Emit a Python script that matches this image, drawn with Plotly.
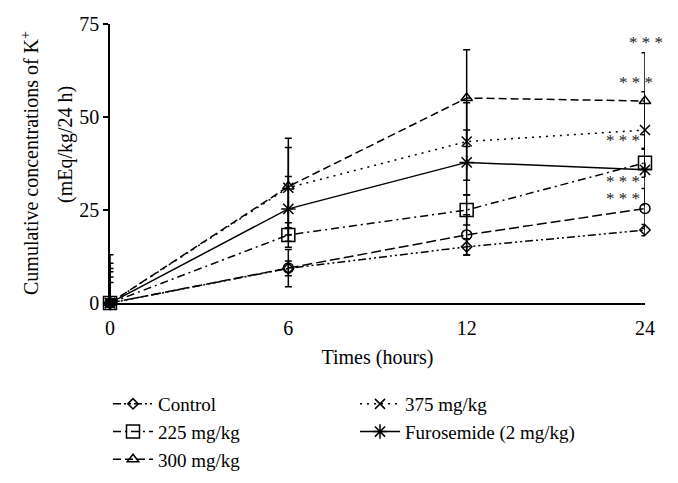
import plotly.graph_objects as go

times = ["0", "6", "12", "24"]
xpos = [0, 1, 2, 3]

control = [0, 9.3, 15.1, 19.6]
control_err = [7.0, 2.0, 2.2, 1.5]
dose150 = [0, 9.4, 18.3, 25.4]
dose150_err = [5.5, 5.0, 5.4, 5.4]
dose225 = [0, 18.3, 25.0, 37.7]
dose225_err = [8.4, 3.3, 4.0, 3.9]
dose300 = [0, 31.3, 55.1, 54.3]
dose300_err = [13.0, 13.0, 13.0, 13.0]
dose375 = [0, 31.0, 43.4, 46.5]
dose375_err = [10.7, 10.8, 10.4, 10.3]
furo = [0, 25.3, 37.8, 35.8]
furo_err = [9.3, 8.7, 8.7, 9.4]

sig_y = [69.9, 59.2, 43.8, 32.6, 28.0]
sig_shift = [20, 10, -3, -3, -3]

font = "Liberation Serif, Times New Roman, serif"

series = [
    ("Control", control, control_err, "diamond-open", 8, "8px,3px,2px,3px,2px,3px", 1, True),
    ("150", dose150, dose150_err, "circle-open", 10, "10px,4px", 6, False),
    ("225 mg/kg", dose225, dose225_err, "square-open", 13, "8px,4px,2px,4px", 3, True),
    ("300 mg/kg", dose300, dose300_err, "triangle-up-open", 10, "8px,4px", 5, True),
    ("375 mg/kg", dose375, dose375_err, "x-thin-open", 10, "2px,5px", 2, True),
    ("Furosemide (2 mg/kg)", furo, furo_err, "asterisk-open", 12, "solid", 4, True),
]

L, R, T, B = 110, 33, 24, 180
W, H = 678, 483
pw, ph = W - L - R, H - T - B

def px(xp):
    return (xp - L) / pw

def py(yp):
    return (H - B - yp) / ph

fig = go.Figure()
for name, ys, es, sym, sz, dash, rank, show in series:
    fig.add_trace(go.Scatter(
        x=xpos, y=ys, name=name, mode="lines+markers",
        line=dict(color="black", width=1.5, dash=dash),
        marker=dict(symbol=sym, size=sz, color="black", line=dict(color="black", width=1.5)),
        error_y=dict(type="data", array=es, visible=True, color="black", thickness=1.5, width=3.5),
        cliponaxis=False, showlegend=show, legendrank=rank,
    ))

for yv, sh in zip(sig_y, sig_shift):
    fig.add_annotation(x=3, y=yv, xref="x", yref="y", text="* * *", showarrow=False,
                       xanchor="right", yanchor="middle", xshift=sh,
                       font=dict(family=font, size=17, color="#222222"))

fig.add_annotation(x=px(30), y=py(163), xref="paper", yref="paper",
                   xanchor="center", yanchor="middle",
                   text="Cumulative concentrations of K<sup>+</sup>", textangle=-90, showarrow=False,
                   font=dict(family=font, size=20, color="black"))
fig.add_annotation(x=px(65), y=py(145), xref="paper", yref="paper",
                   xanchor="center", yanchor="middle",
                   text="(mEq/kg/24 h)", textangle=-90, showarrow=False,
                   font=dict(family=font, size=20, color="black"))

fig.update_layout(
    width=W, height=H,
    margin=dict(l=L, r=R, t=T, b=B, autoexpand=False),
    paper_bgcolor="white", plot_bgcolor="white",
    font=dict(family=font, size=20, color="black"),
    showlegend=True,
    legend=dict(orientation="h", x=px(108), xanchor="left", y=py(385), yanchor="top",
                entrywidth=192, entrywidthmode="pixels", tracegroupgap=0,
                font=dict(family=font, size=19, color="black"), itemwidth=40),
)

fig.update_xaxes(range=[0, 3], tickvals=xpos, ticktext=times, showgrid=False, zeroline=False,
                 showline=True, linecolor="black", linewidth=1.5, ticks="", ticklabelstandoff=6,
                 tickfont=dict(family=font, size=20),
                 title=dict(text="Times (hours)", standoff=12, font=dict(family=font, size=20)))
fig.update_yaxes(range=[0, 75], tickvals=[0, 25, 50, 75], showgrid=False, zeroline=False,
                 showline=True, linecolor="black", linewidth=1.5, ticks="outside", ticklen=5,
                 tickcolor="black", tickwidth=1.5, tickfont=dict(family=font, size=20))

fig.write_html("out.html", config={"displayModeBar": False},
               post_script="document.body.style.margin='0px';")
